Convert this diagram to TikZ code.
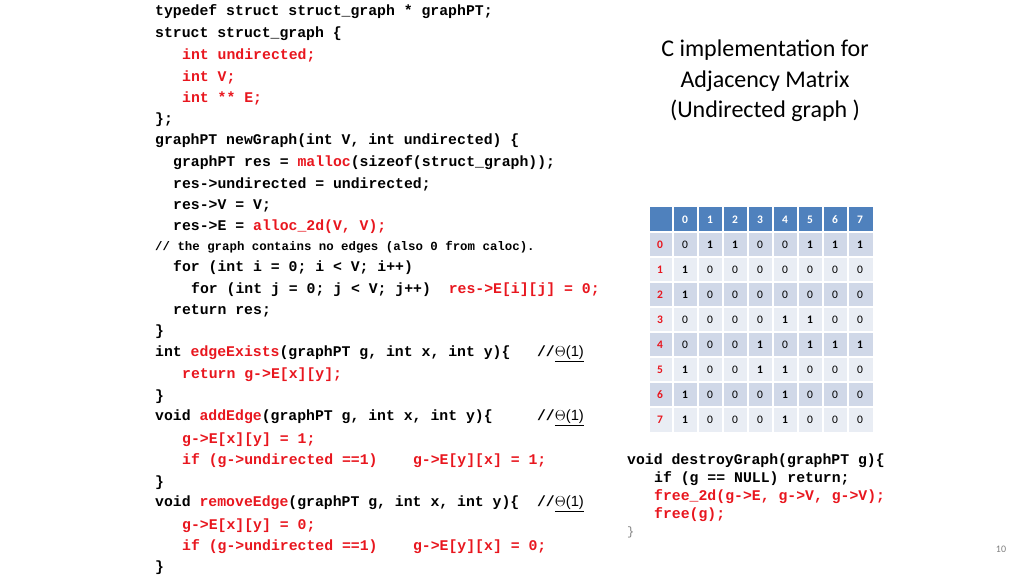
\documentclass[tikz,border=0pt]{standalone}
\usepackage{fontspec}
\setmainfont{Carlito}
\setmonofont{Liberation Mono}
\usetikzlibrary{positioning}
\definecolor{codered}{RGB}{232,22,30}
\definecolor{hdrblue}{RGB}{79,129,189}
\definecolor{rowdark}{RGB}{208,216,232}
\definecolor{rowlight}{RGB}{233,237,244}
\newcommand{\rd}[1]{\textcolor{codered}{#1}}
\newcommand{\thetaone}{{\fontspec{Liberation Sans}\mdseries\underline{$\Theta$(1)}}}

\begin{document}
\begin{tikzpicture}[x=1pt,y=-1pt,
    code/.style={anchor=west, inner sep=0pt, font=\fontsize{14.8}{16}\selectfont\ttfamily\bfseries},
    small code/.style={anchor=west, inner sep=0pt, font=\fontsize{12.4}{14}\selectfont\ttfamily\bfseries},
    cell/.style={minimum width=24pt, minimum height=24pt, inner sep=0pt, font=\fontsize{11.5}{12}\selectfont},
    title/.style={align=center, font=\fontsize{24}{30.5}\selectfont}
]
\useasboundingbox (0,0) rectangle (1024,576);

% Code on the left
\node[code] (l1) at (155,12) {typedef struct struct\_graph * graphPT;};
\node[code] (l2) at (155,34) {struct struct\_graph \{};
\node[code] (l3) at (182,55) {\rd{int undirected;}};
\node[code] (l4) at (182,77) {\rd{int V;}};
\node[code] (l5) at (182,98) {\rd{int ** E;}};
\node[code] (l6) at (155,120) {\};};
\node[code] (l7) at (155,141) {graphPT newGraph(int V, int undirected) \{};
\node[code] (l8) at (173,163) {graphPT res = \rd{malloc}(sizeof(struct\_graph));};
\node[code] (l9) at (173,184) {res->undirected = undirected;};
\node[code] (l10) at (173,206) {res->V = V;};
\node[code] (l11) at (173,227) {res->E = \rd{alloc\_2d(V, V);}};
\node[small code] (l12) at (155,247) {// the graph contains no edges (also 0 from caloc).};
\node[code] (l13) at (173,268) {for (int i = 0; i < V; i++)};
\node[code] (l14) at (191,290) {for (int j = 0; j < V; j++)\ \ \rd{res->E[i][j] = 0;}};
\node[code] (l15) at (173,311) {return res;};
\node[code] (l16) at (155,332) {\}};
\node[code] (l17) at (155,354) {int \rd{edgeExists}(graphPT g, int x, int y)\{\ \ \ //\thetaone};
\node[code] (l18) at (182,375) {\rd{return g->E[x][y];}};
\node[code] (l19) at (155,397) {\}};
\node[code] (l20) at (155,418) {void \rd{addEdge}(graphPT g, int x, int y)\{\ \ \ \ \ //\thetaone};
\node[code] (l21) at (182,440) {\rd{g->E[x][y] = 1;}};
\node[code] (l22) at (182,461) {\rd{if (g->undirected ==1)\ \ \ \ g->E[y][x] = 1;}};
\node[code] (l23) at (155,483) {\}};
\node[code] (l24) at (155,504) {void \rd{removeEdge}(graphPT g, int x, int y)\{\ \ //\thetaone};
\node[code] (l25) at (182,526) {\rd{g->E[x][y] = 0;}};
\node[code] (l26) at (182,547) {\rd{if (g->undirected ==1)\ \ \ \ g->E[y][x] = 0;}};
\node[code] (l27) at (155,568) {\}};

% Title
\node[title] (T) at (765,81) {C implementation for\\Adjacency Matrix\\(Undirected graph )};

% Adjacency matrix
\fill[hdrblue] (650,207) rectangle (873,232);
\foreach \c in {0,...,7}
  \node[cell, text=white, font=\fontsize{11.5}{12}\selectfont\bfseries] (h\c) at (685+25*\c,219.5) {\c};
\foreach \c in {1,...,8}
  \draw[white, line width=1.5pt] (648+25*\c,207) -- (648+25*\c,432);
\foreach \r/\vals in {0/{0,1,1,0,0,1,1,1},1/{1,0,0,0,0,0,0,0},2/{1,0,0,0,0,0,0,0},
    3/{0,0,0,0,1,1,0,0},4/{0,0,0,1,0,1,1,1},5/{1,0,0,1,1,0,0,0},
    6/{1,0,0,0,1,0,0,0},7/{1,0,0,0,1,0,0,0}} {
  \pgfmathsetmacro{\shade}{mod(\r,2)==0 ? 1 : 0}
  \ifdim\shade pt=1pt
    \fill[rowdark] (650,232+25*\r) rectangle (873,257+25*\r);
  \else
    \fill[rowlight] (650,232+25*\r) rectangle (873,257+25*\r);
  \fi
  \draw[white, line width=1.5pt] (650,232+25*\r) -- (873,232+25*\r);
  \foreach \c in {1,...,8}
    \draw[white, line width=1.5pt] (648+25*\c,232+25*\r) -- (648+25*\c,257+25*\r);
  \node[cell, text=codered, font=\fontsize{11.5}{12}\selectfont\bfseries] (r\r) at (660,244.5+25*\r) {\r};
  \foreach \v [count=\c from 0] in \vals {
    \ifnum\v=1
      \node[cell, font=\fontsize{11.5}{12}\selectfont\bfseries] (m\r\c) at (685+25*\c,244.5+25*\r) {1};
    \else
      \node[cell] (m\r\c) at (685+25*\c,244.5+25*\r) {0};
    \fi
  }
}

% destroyGraph
\node[code] (d1) at (627,461) {void destroyGraph(graphPT g)\{};
\node[code] (d2) at (654,479) {if (g == NULL) return;};
\node[code] (d3) at (654,497) {\rd{free\_2d(g->E, g->V, g->V);}};
\node[code] (d4) at (654,515) {\rd{free(g);}};
\node[code, font=\fontsize{12}{14}\selectfont\ttfamily, text=gray] (d5) at (627,532) {\}};

% Page number
\node[text=gray, font=\fontsize{10}{12}\selectfont] (pg) at (1001,549) {10};
\end{tikzpicture}
\end{document}
